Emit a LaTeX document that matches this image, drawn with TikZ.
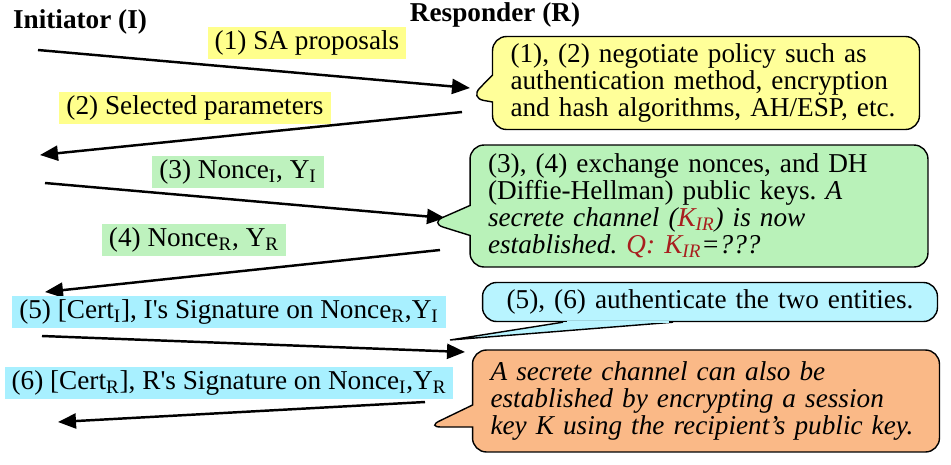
\documentclass[tikz,border=0pt]{standalone}
\usepackage{fontspec}
\setmainfont{Liberation Serif}
\usetikzlibrary{arrows.meta,shapes.callouts}
\definecolor{lblyellow}{RGB}{255,255,140}
\definecolor{boxyellow}{RGB}{255,255,153}
\definecolor{lblgreen}{RGB}{190,242,190}
\definecolor{boxgreen}{RGB}{185,242,185}
\definecolor{lblcyan}{RGB}{168,240,255}
\definecolor{boxcyan}{RGB}{184,244,255}
\definecolor{boxorange}{RGB}{250,185,135}
\definecolor{kred}{RGB}{168,30,30}
\frenchspacing
\tikzset{
  msg/.style={
    line width=1.4pt,
    -{Triangle[length=0.36cm,width=0.3cm]}
  },
  lbl/.style={
    inner xsep=0.14cm,
    inner ysep=0pt,
    minimum height=0.64cm
  },
  note/.style={
    shape=rectangle callout,
    draw,
    line width=0.8pt,
    rounded corners=0.28cm,
    inner xsep=0.36cm,
    inner ysep=0pt,
    align=left
  },
  party/.style={
    font=\fontsize{15.5}{15.4}\selectfont\bfseries
  }
}
\begin{document}
\begin{tikzpicture}[x=0.02cm,y=-0.02cm,font=\fontsize{15.5}{15.4}\selectfont]
    \useasboundingbox (0,0) rectangle (951,464);
    \node[party] (ini) at (80,22) {Initiator (I)};
    \node[party] (res) at (495,15) {Responder (R)};
    % messages
    \foreach \n/\a/\b in {1/{38,50}/{470,88},2/{462,112}/{40,155},3/{45,183}/{445,218},
                          4/{440,250}/{45,292},5/{42,336}/{465,352},6/{425,402}/{58,422}}{
            \coordinate (s\n) at (\a);
            \coordinate (e\n) at (\b);
            \draw[msg] (s\n) -- (e\n);
        }
    \node[lbl,fill=lblyellow] (m1) at (307,43) {(1) SA proposals};
    \node[lbl,fill=lblyellow] (m2) at (195,108) {(2) Selected parameters};
    \node[lbl,fill=lblgreen] (m3) at (238,172) {(3) Nonce\textsubscript{I}, Y\textsubscript{I}};
    \node[lbl,fill=lblgreen] (m4) at (194,240) {(4) Nonce\textsubscript{R}, Y\textsubscript{R}};
    \node[lbl,fill=lblcyan] (m5) at (229,312) {(5) [Cert\textsubscript{I}], I\textquotesingle s Signature on Nonce\textsubscript{R},Y\textsubscript{I}};
    \node[lbl,fill=lblcyan] (m6) at (229,383) {(6) [Cert\textsubscript{R}], R\textquotesingle s Signature on Nonce\textsubscript{I},Y\textsubscript{R}};
    % notes
    \node[note,fill=boxyellow,text width=7.82cm,minimum height=1.86cm,
          callout absolute pointer={(470,98)},callout pointer width=0.54cm] (n12) at (706,83)
        {(1), (2) negotiate policy such as\\authentication method, encryption\\and hash algorithms, AH/ESP, etc.};
    \node[note,fill=boxgreen,text width=8.44cm,minimum height=2.44cm,
          callout absolute pointer={(430,223)},callout pointer width=0.6cm] (n34) at (699,206)
        {(3), (4) exchange nonces, and DH\\(Diffie-Hellman) public keys. \textit{A}\\
         \textit{secrete channel (\textcolor{kred}{K\textsubscript{IR}}) is now}\\
         \textit{established. \textcolor{kred}{Q: K\textsubscript{IR}}=???}};
    % thin pointer of the cyan note
    \coordinate (p56) at (450,340);
    \node[note,shape=rectangle,fill=boxcyan,align=center,text width=8.38cm,minimum height=0.78cm] (n56) at (710,302)
        {(5), (6) authenticate the two entities.};
    \draw[line width=0.8pt,fill=boxcyan] ([xshift=-2.94cm]n56.south) -- (p56) -- ([xshift=-0.74cm]n56.south);
    \fill[boxcyan] ([xshift=-2.86cm,yshift=-0.02cm]n56.south) rectangle ([xshift=-0.82cm,yshift=0.03cm]n56.south);
    \node[note,fill=boxorange,text width=8.62cm,minimum height=2.04cm,font=\fontsize{15.5}{15.4}\selectfont\itshape,
          callout absolute pointer={(427,427)},callout pointer width=0.44cm] (nk) at (706,401)
        {A secrete channel can also be\\established by encrypting a session\\key K using the recipient’s public key.};
\end{tikzpicture}
\end{document}
